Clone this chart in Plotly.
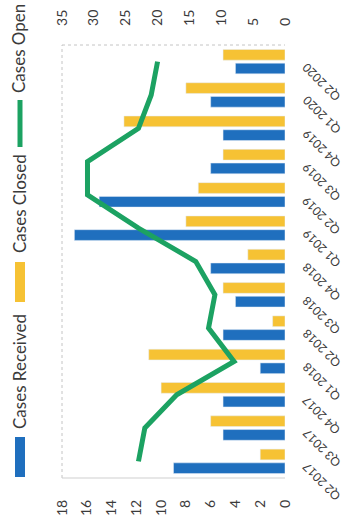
import plotly.graph_objects as go

# Quarterly case volumes
quarters = ["Q2 2017", "Q3 2017", "Q4 2017", "Q1 2018", "Q2 2018", "Q3 2018",
            "Q4 2018", "Q1 2019", "Q2 2019", "Q3 2019", "Q4 2019", "Q1 2020", "Q2 2020"]
cases_received = [9, 5, 5, 2, 5, 4, 6, 17, 15, 6, 5, 6, 4]
cases_closed = [2, 6, 10, 11, 1, 5, 3, 8, 7, 5, 13, 8, 5]
cases_open = [23, 22, 17, 8, 12, 11, 14, 23, 31, 31, 23, 21, 20]

primary_ticks = list(range(0, 19, 2))
secondary_ticks = list(range(0, 36, 5))

BLUE = "rgb(31,111,190)"
YELLOW = "rgb(246,194,52)"
GREEN = "rgb(28,162,98)"
TEXT = "#3b3b3b"
FONT = "Lato"

W, H = 343, 517
ML, MR, MT, MB = 62, 58, 45, 39
PW, PH = W - ML - MR, H - MT - MB


def px(x):
    return (x - ML) / PW


def py(y):
    return 1 - (y - MT) / PH


fig = go.Figure()
fig.add_trace(go.Bar(name="Cases Received", y=quarters, x=cases_received,
                     orientation="h", marker_color=BLUE))
fig.add_trace(go.Bar(name="Cases Closed", y=quarters, x=cases_closed,
                     orientation="h", marker_color=YELLOW))
fig.add_trace(go.Scatter(name="Cases Open", y=quarters, x=cases_open, xaxis="x2",
                         mode="lines", line=dict(color=GREEN, width=5)))

axis_font = dict(family=FONT, size=14, color=TEXT)

# Rotated category labels on the right edge
annotations = []
for q in quarters:
    annotations.append(dict(x=1, xref="paper", y=q, yref="y", text=q,
                            showarrow=False, textangle=-135, xanchor="left",
                            yanchor="top", xshift=11, yshift=5,
                            font=dict(family=FONT, size=12, color=TEXT)))

# Legend drawn down the left side
legend_items = [
    ("Cases Received", 372, BLUE, (437, 477), "bar"),
    ("Cases Closed", 204, YELLOW, (262, 302), "bar"),
    ("Cases Open", 49, GREEN, (100, 147), "line"),
]
shapes = []
for label, ty, color, (y0, y1), kind in legend_items:
    annotations.append(dict(x=px(19), xref="paper", y=py(ty), yref="paper",
                            text=label, showarrow=False, textangle=-90,
                            xanchor="center", yanchor="middle",
                            font=dict(family=FONT, size=17, color=TEXT)))
    if kind == "bar":
        shapes.append(dict(type="rect", xref="paper", yref="paper",
                           x0=px(15), x1=px(25), y0=py(y1), y1=py(y0),
                           fillcolor=color, line=dict(width=0)))
    else:
        shapes.append(dict(type="line", xref="paper", yref="paper",
                           x0=px(20), x1=px(20), y0=py(y1), y1=py(y0),
                           line=dict(color=color, width=5)))

# Faint plot-area frame
frame = dict(color="#c4c4c4", width=1, dash="dot")
shapes += [
    dict(type="line", xref="paper", yref="paper", x0=0, x1=0, y0=0, y1=1, line=frame),
    dict(type="line", xref="paper", yref="paper", x0=0, x1=1, y0=1, y1=1, line=frame),
    dict(type="line", xref="paper", yref="paper", x0=0, x1=1, y0=0, y1=0,
         line=dict(color="#cfcfcf", width=1)),
]

fig.update_layout(
    width=W, height=H, autosize=False,
    margin=dict(l=ML, r=MR, t=MT, b=MB, pad=0),
    paper_bgcolor="white", plot_bgcolor="white",
    barmode="group", bargap=0.176, bargroupgap=0.22,
    showlegend=False,
    font=dict(family=FONT, color=TEXT),
    xaxis=dict(range=[18, 0], tickvals=primary_ticks, tickangle=-90,
               side="bottom", showgrid=False, zeroline=False, showline=False,
               ticks="", ticklabelstandoff=18, tickfont=axis_font,
               automargin=False),
    xaxis2=dict(range=[35, 0], tickvals=secondary_ticks, tickangle=-90,
                overlaying="x", side="top", showgrid=False, zeroline=False,
                showline=False, ticks="", ticklabelstandoff=18,
                tickfont=axis_font, automargin=False),
    yaxis=dict(type="category", categoryorder="array", categoryarray=quarters,
               range=[-0.5, len(quarters) - 0.5], showticklabels=False,
               showgrid=False, zeroline=False, showline=False, ticks="",
               automargin=False),
    annotations=annotations,
    shapes=shapes,
)

fig.write_html("out.html")
